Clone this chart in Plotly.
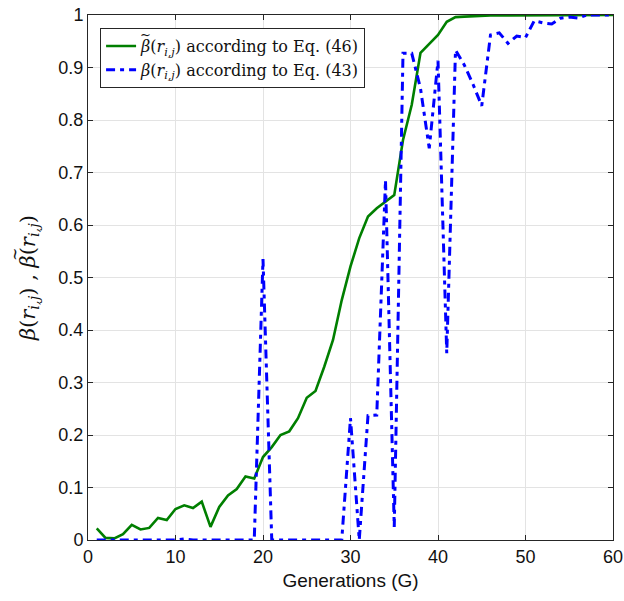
import plotly.graph_objects as go

generations = list(range(1, 61))

beta_tilde_eq46 = [0.022, 0.004, 0.003, 0.011, 0.029, 0.020, 0.023, 0.042, 0.038, 0.059,
                   0.066, 0.061, 0.073, 0.025, 0.063, 0.085, 0.097, 0.121, 0.117, 0.158,
                   0.177, 0.200, 0.207, 0.232, 0.271, 0.284, 0.330, 0.381, 0.457, 0.521,
                   0.575, 0.616, 0.632, 0.645, 0.657, 0.762, 0.829, 0.928, 0.945, 0.962,
                   0.987, 0.996, 0.997, 0.998, 0.998, 0.999, 0.999, 0.999, 1.0, 1.0,
                   1.0, 1.0, 1.0, 1.0, 1.0, 1.0, 1.0, 1.0, 1.0, 1.0]

beta_eq43 = [0, 0, 0, 0, 0, 0, 0, 0, 0, 0,
             0.002, 0, 0, 0, 0, 0, 0, 0, 0, 0.535,
             0, 0, 0, 0, 0, 0, 0, 0, 0, 0.232,
             0, 0.237, 0.238, 0.685, 0.025, 0.927, 0.927, 0.86, 0.746, 0.913,
             0.356, 0.933, 0.905, 0.868, 0.827, 0.962, 0.966, 0.946, 0.960, 0.957,
             0.989, 0.985, 0.983, 0.994, 0.996, 0.994, 1.0, 1.0, 1.0, 1.0]

x_ticks = [0, 10, 20, 30, 40, 50, 60]
y_ticks = [0, 0.1, 0.2, 0.3, 0.4, 0.5, 0.6, 0.7, 0.8, 0.9, 1]
y_tick_labels = ["0", "0.1", "0.2", "0.3", "0.4", "0.5", "0.6", "0.7", "0.8", "0.9", "1"]

serif = "DejaVu Serif, Liberation Serif, serif"
sans = "Liberation Sans, Arial, sans-serif"

B = "<i>\u03b2</i>"
R = "(<i>r</i><sub><i>i,j</i></sub>)"

fig = go.Figure()
fig.add_trace(go.Scatter(
    x=generations, y=beta_tilde_eq46, mode="lines",
    line=dict(color="#007f00", width=2.6),
    name=B + R + " according to Eq. (46)",
))
fig.add_trace(go.Scatter(
    x=generations, y=beta_eq43, mode="lines",
    line=dict(color="#0000ff", width=3, dash="9px,5px,4px,5px"),
    name=B + R + " according to Eq. (43)",
))

axis_common = dict(
    showline=True, linecolor="#262626", linewidth=1, mirror="allticks",
    ticks="inside", ticklen=5, tickcolor="#262626",
    showgrid=True, gridcolor="#e3e3e3", gridwidth=1,
    zeroline=False, automargin=False,
    tickfont=dict(family=sans, size=18, color="#111111"),
)

# tilde accents placed over the second beta (legend entry 1 and y-axis title)
tilde_font = dict(family=serif, size=13, color="#111111")
fig.add_annotation(text="~", xref="paper", yref="paper", x=0.1095, y=0.9635,
                   xanchor="center", yanchor="middle", showarrow=False, font=tilde_font)
fig.add_annotation(text="~", xref="paper", yref="paper", x=-0.139, y=0.543,
                   xanchor="center", yanchor="middle", showarrow=False,
                   textangle=-90, font=dict(family=serif, size=16, color="#111111"))

fig.update_layout(
    width=624, height=601,
    margin=dict(l=88, r=11, t=15, b=61),
    paper_bgcolor="white", plot_bgcolor="white",
    xaxis=dict(range=[0, 60], tickvals=x_ticks,
               title=dict(text="Generations (G)", font=dict(family=sans, size=19, color="#111111"), standoff=8),
               **axis_common),
    yaxis=dict(range=[0, 1], tickvals=y_ticks, ticktext=y_tick_labels,
               title=dict(text=B + R + " , " + B + R,
                          font=dict(family=serif, size=21, color="#111111"), standoff=17),
               **axis_common),
    legend=dict(x=0.023, y=0.975, xanchor="left", yanchor="top",
                bgcolor="white", bordercolor="#262626", borderwidth=1,
                font=dict(family=serif, size=16, color="#111111"),
                tracegroupgap=0, itemwidth=30),
    showlegend=True,
)

fig.write_html("out.html")
